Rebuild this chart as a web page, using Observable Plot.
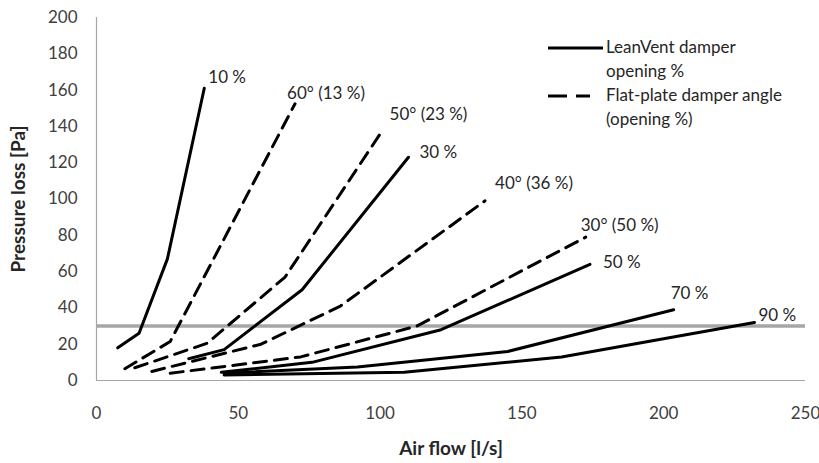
<!DOCTYPE html>
<html>
<head>
<meta charset="utf-8">
<script src="https://cdn.jsdelivr.net/npm/d3@7"></script>
<script src="https://cdn.jsdelivr.net/npm/@observablehq/plot@0.6"></script>
<style>
  body { margin: 0; background: #fff; }
  #wrap { position: relative; width: 819px; height: 463px; font-family: Lato, sans-serif; }
  #wrap svg { display: block; }
  .legend { position: absolute; left: 548px; top: 35px; font-size: 17px; color: #262626; line-height: 24px; }
  .legend .row { display: flex; align-items: flex-start; }
  .legend svg { flex: none; margin-top: 2px; }
</style>
</head>
<body>
<div id="wrap"></div>
<script>
// ---- Data (air flow [l/s], pressure loss [Pa]) ----
const lv10 = [[7.5, 18], [15, 26], [25, 67], [38, 161]];
const lv30 = [[32.5, 12], [45, 17], [72.5, 50], [110, 123]];
const lv50 = [[44, 4.5], [76, 10], [121.5, 28], [174, 64]];
const lv70 = [[45, 4], [92, 7.5], [145, 16], [203.5, 39]];
const lv90 = [[45, 3], [108.5, 4.5], [164, 13], [232, 32]];
const fp60 = [[10, 6.5], [26, 21.5], [70, 152.5]];
const fp50 = [[13.5, 7], [39, 20.5], [66.5, 57], [100.5, 137]];
const fp40 = [[19.5, 5], [58, 20], [86, 41], [137, 99]];
const fp30 = [[26, 4], [72, 13], [113, 30], [172.5, 79]];

const seriesNames = ["10 %", "30 %", "50 %", "70 %", "90 %", "60° (13 %)", "50° (23 %)", "40° (36 %)", "30° (50 %)"];
const seriesKinds = ["LeanVent", "LeanVent", "LeanVent", "LeanVent", "LeanVent", "Flat-plate", "Flat-plate", "Flat-plate", "Flat-plate"];
const seriesPoints = [lv10, lv30, lv50, lv70, lv90, fp60, fp50, fp40, fp30];
const limitLoss = [30];
const xTicks = [0, 50, 100, 150, 200, 250];
const yTicks = [0, 20, 40, 60, 80, 100, 120, 140, 160, 180, 200];
const legendLabels = [["LeanVent damper", "opening %"], ["Flat-plate damper angle", "(opening %)"]];
const xTitle = "Air flow [l/s]";
const yTitle = "Pressure loss [Pa]";

// ---- Layout (label offsets in px, not data) ----
const labelOffsets = [[4, -11], [11, -5], [13, -2], [-3, -16], [4, -7], [-8, -10], [8, -17], [10, -17], [-5, -12]];

const rows = seriesNames.flatMap((name, i) =>
  seriesPoints[i].map(([flow, loss]) => ({series: name, kind: seriesKinds[i], flow, loss}))
);
const ends = seriesNames.map((name, i) => {
  const p = seriesPoints[i][seriesPoints[i].length - 1];
  return {series: name, flow: p[0], loss: p[1]};
});

const labelMarks = ends.map((d, i) =>
  Plot.text([d], {x: "flow", y: "loss", text: "series", textAnchor: "start",
    dx: labelOffsets[i][0], dy: labelOffsets[i][1], fill: "#262626", fontSize: 17})
);

const chart = Plot.plot({
  width: 819,
  height: 463,
  marginLeft: 96,
  marginRight: 14,
  marginTop: 17,
  marginBottom: 83,
  style: {fontFamily: "Lato, sans-serif", fontSize: "17px", background: "#fff", overflow: "visible"},
  x: {domain: [0, 250]},
  y: {domain: [0, 200]},
  marks: [
    Plot.axisX({ticks: xTicks, tickSize: 0, tickPadding: 26, fill: "#404040", fontSize: 17, label: null}),
    Plot.axisY({ticks: yTicks, tickSize: 0, tickPadding: 19, fill: "#404040", fontSize: 17, label: null}),
    Plot.ruleX([0], {y1: 0, y2: 200, stroke: "#a6a6a6", strokeWidth: 1.2}),
    Plot.ruleY([0], {stroke: "#a6a6a6", strokeWidth: 1.2}),
    Plot.ruleY(limitLoss, {stroke: "#a6a6a6", strokeWidth: 3.5}),
    Plot.line(rows.filter(d => d.kind === "LeanVent"), {x: "flow", y: "loss", z: "series", stroke: "#000", strokeWidth: 3, strokeLinejoin: "round"}),
    Plot.line(rows.filter(d => d.kind === "Flat-plate"), {x: "flow", y: "loss", z: "series", stroke: "#000", strokeWidth: 3, strokeDasharray: "13,8"}),
    ...labelMarks,
    Plot.text([xTitle], {frameAnchor: "bottom", textAnchor: "middle", lineAnchor: "middle", dy: 68, fontWeight: "bold", fill: "#262626", fontSize: 19}),
    Plot.text([yTitle], {frameAnchor: "left", textAnchor: "middle", lineAnchor: "middle", dx: -78, rotate: -90, fontWeight: "bold", fill: "#262626", fontSize: 19})
  ]
});

const wrap = document.getElementById("wrap");
wrap.appendChild(chart);

const legend = document.createElement("div");
legend.className = "legend";
const samples = [
  '<svg width="58" height="20"><line x1="0" y1="11" x2="55" y2="11" stroke="#000" stroke-width="3"/></svg>',
  '<svg width="58" height="20"><line x1="0" y1="11" x2="42" y2="11" stroke="#000" stroke-width="3" stroke-dasharray="19,9"/></svg>'
];
legend.innerHTML = legendLabels.map((lines, i) =>
  `<div class="row">${samples[i]}<div>${lines.join("<br>")}</div></div>`
).join("");
wrap.appendChild(legend);
</script>
</body>
</html>
